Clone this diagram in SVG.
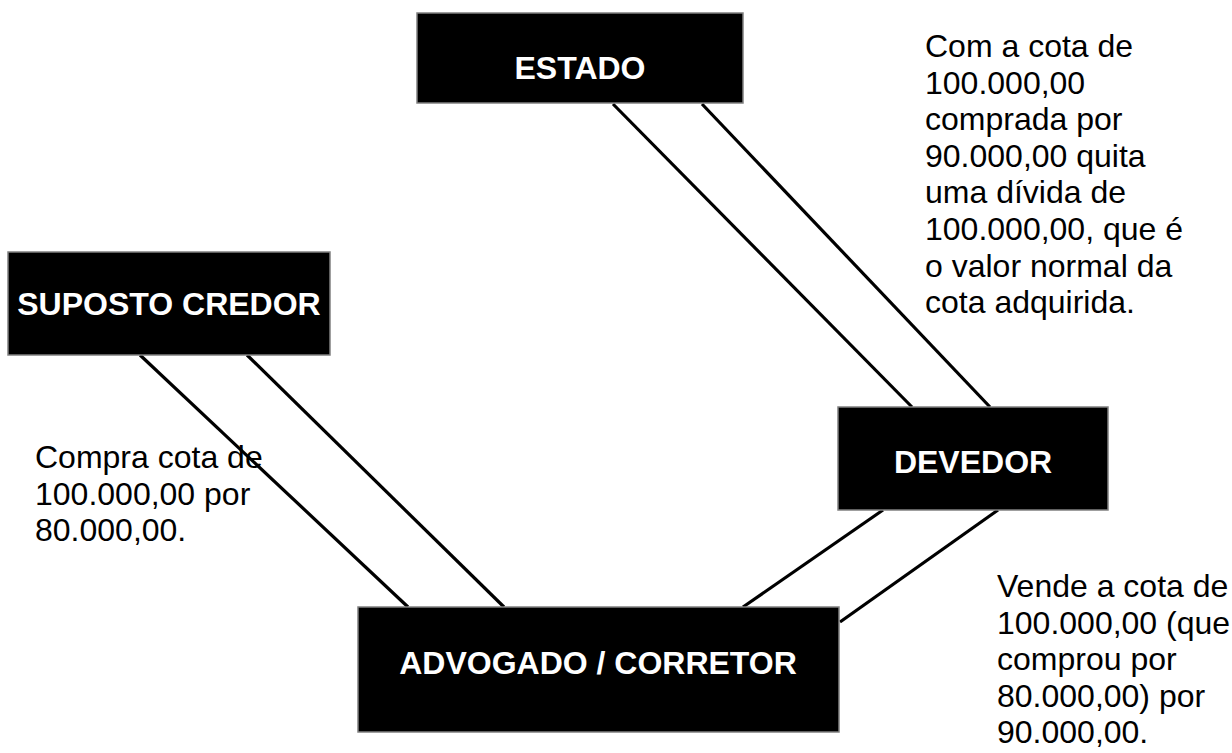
<svg xmlns="http://www.w3.org/2000/svg" width="1232" height="753" viewBox="0 0 1232 753">
<style>
.box{fill:#000;stroke:#808080;stroke-width:1.5}
.lbl{font-family:"Liberation Sans",Arial,sans-serif;font-weight:bold;font-size:32px;fill:#fff;text-anchor:middle}
.note{font-family:"Liberation Sans",Arial,sans-serif;font-size:32px;fill:#000}
.con line{stroke:#000;stroke-width:3.2}
</style>
<rect width="1232" height="753" fill="#fff"/>
<g id="connectors" class="con">
<line x1="613" y1="104" x2="912" y2="407"/>
<line x1="702" y1="104" x2="990" y2="407"/>
<line x1="140" y1="355" x2="408" y2="607"/>
<line x1="247" y1="355" x2="504" y2="607"/>
<line x1="883" y1="510" x2="743" y2="607"/>
<line x1="998" y1="510" x2="840" y2="622"/>
</g>
<g id="estado">
<rect class="box" x="417" y="13" width="326" height="90"/>
<text class="lbl" x="580" y="79">ESTADO</text>
</g>
<g id="suposto-credor">
<rect class="box" x="8" y="252" width="322" height="103"/>
<text class="lbl" x="169" y="315">SUPOSTO CREDOR</text>
</g>
<g id="devedor">
<rect class="box" x="838" y="407" width="270" height="103"/>
<text class="lbl" x="973" y="473">DEVEDOR</text>
</g>
<g id="advogado-corretor">
<rect class="box" x="358" y="607" width="481" height="125"/>
<text class="lbl" x="598" y="674">ADVOGADO / CORRETOR</text>
</g>
<g id="note-devedor" class="note">
<text x="925" y="57">Com a cota de</text>
<text x="925" y="93.6">100.000,00</text>
<text x="925" y="130.2">comprada por</text>
<text x="925" y="166.8">90.000,00 quita</text>
<text x="925" y="203.4">uma dívida de</text>
<text x="925" y="240">100.000,00, que é</text>
<text x="925" y="276.6">o valor normal da</text>
<text x="925" y="313.2">cota adquirida.</text>
</g>
<g id="note-credor" class="note">
<text x="35" y="468">Compra cota de</text>
<text x="35" y="504.6">100.000,00 por</text>
<text x="35" y="541.2">80.000,00.</text>
</g>
<g id="note-advogado" class="note">
<text x="997" y="597">Vende a cota de</text>
<text x="997" y="633.6">100.000,00 (que</text>
<text x="997" y="670.2">comprou por</text>
<text x="997" y="706.8">80.000,00) por</text>
<text x="997" y="743.4">90.000,00.</text>
</g>
</svg>
